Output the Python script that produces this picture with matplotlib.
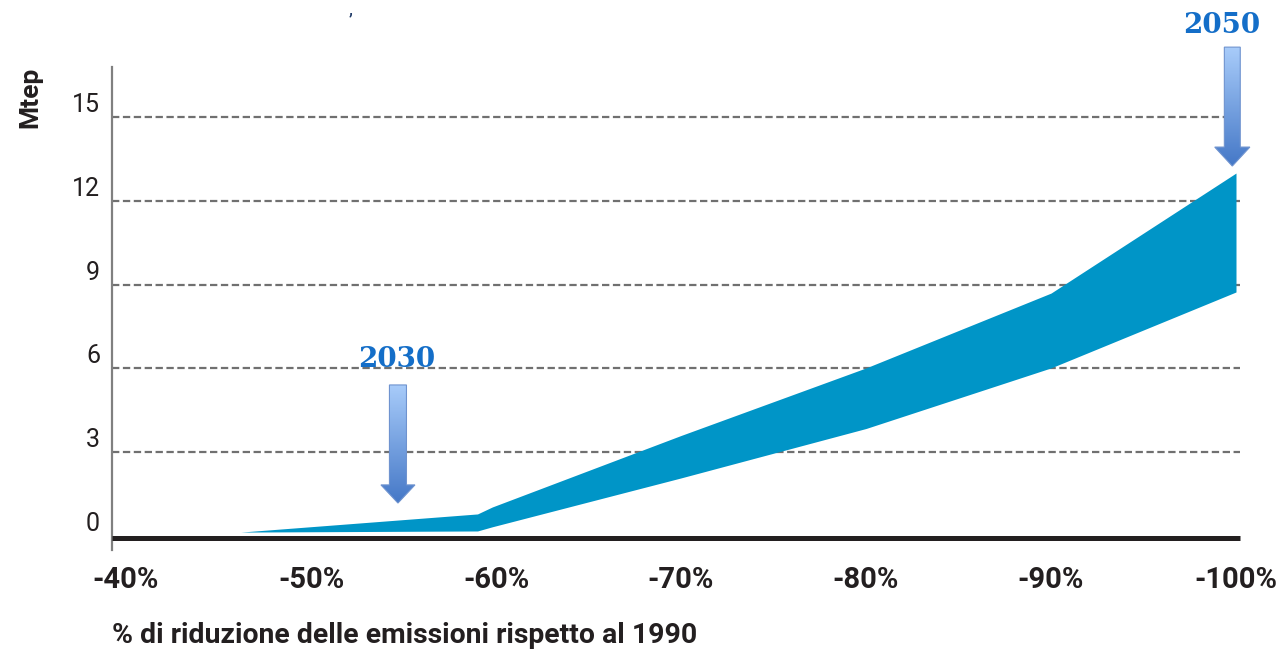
import numpy as np
import matplotlib.pyplot as plt
from matplotlib.patches import Polygon

plt.rcParams['font.family'] = ['Roboto', 'DejaVu Sans']

# forchetta del fabbisogno (Mtep) per livello di riduzione delle emissioni
riduzione = [46.2, 59.0, 59.8, 70, 80, 90, 100]
mtep_min = [0.14, 0.18, 0.33, 2.08, 3.85, 6.02, 8.74]
mtep_max = [0.14, 0.79, 1.04, 3.60, 6.02, 8.70, 13.0]

x_ticks = [40, 50, 60, 70, 80, 90, 100]
x_labels = ['-40%', '-50%', '-60%', '-70%', '-80%', '-90%', '-100%']
y_ticks = [0, 3, 6, 9, 12, 15]

anni = ['2030', '2050']
anni_x = [54.7, 99.8]

PX_X = 18.5    # pixel per punto percentuale
PX_Y = 27.92   # pixel per Mtep


def freccia(ax, cx, top, base, tip, sw, hw):
    # freccia verso il basso con sfumatura azzurro -> blu
    pts = [(cx - sw, top), (cx + sw, top), (cx + sw, base), (cx + hw, base),
           (cx, tip), (cx - hw, base), (cx - sw, base)]
    poly = Polygon(pts, closed=True, fc='none', ec='#6f93cf', lw=0.8, zorder=6)
    ax.add_patch(poly)
    grad = np.linspace(0, 1, 256)[:, None]
    c1 = np.array([0.66, 0.80, 0.98])
    c2 = np.array([0.27, 0.47, 0.78])
    img = c1 + (c2 - c1) * grad[:, :, None]
    im = ax.imshow(img, extent=[cx - hw, cx + hw, tip, top], origin='upper',
                   aspect='auto', zorder=5, interpolation='bilinear')
    im.set_clip_path(poly)


fig = plt.figure(figsize=(12.76, 6.5), dpi=100)
ax = fig.add_axes([112 / 1276, 1 - 552.75 / 650, (1276 - 112) / 1276, 552.75 / 650])
x0 = 40 - 14 / PX_X
x1 = 100.2

# griglia tratteggiata
for v in y_ticks[1:]:
    ax.hlines(v, x0, x1, colors='#707070', linestyles=(0, (3.3, 1.6)), lw=1.6, zorder=1)

ax.fill_between(riduzione, mtep_min, mtep_max, color='#0095C7', lw=0, zorder=2)
ax.hlines(-0.08, x0, x1, colors='#231f20', lw=3.6, zorder=3)

# frecce e anni
freccia(ax, anni_x[0], 5.41, 1.83, 1.18, 0.46, 0.92)
freccia(ax, anni_x[1], 17.51, 13.93, 13.25, 0.43, 0.95)
ax.text(54.65, 6.05, anni[0], ha='center', va='baseline', family='DejaVu Serif',
        fontweight='heavy', fontsize=20, color='#146EC8', zorder=7)
ax.text(99.24, 18.0, anni[1], ha='center', va='baseline', family='DejaVu Serif',
        fontweight='heavy', fontsize=20, color='#146EC8', zorder=7)

ax.set_xlim(x0, x0 + (1276 - 112) / PX_X)
ax.set_ylim(-0.6, 536 / PX_Y)

for s in ['top', 'right', 'bottom']:
    ax.spines[s].set_visible(False)
ax.spines['left'].set_color('#808080')
ax.spines['left'].set_linewidth(1.6)
ax.spines['left'].set_bounds(-0.5, 16.8)
ax.set_xticks([])
ax.set_yticks([])

for x, lab in zip(x_ticks, x_labels):
    ax.text(x, -1.07, lab, ha='center', va='top', fontsize=21, fontweight='bold',
            color='#231f20')
for v in y_ticks:
    ax.text(x0 - 12 / PX_X, v + 5 / PX_Y, str(v), ha='right', va='baseline',
            fontsize=18, color='#231f20')

ax.text(x0, -3.83, '% di riduzione delle emissioni rispetto al 1990', ha='left',
        va='baseline', fontsize=20.4, fontweight='bold', color='#231f20')
fig.text(30 / 1276, 1 - 97 / 650, 'Mtep', rotation=90, ha='center', va='center',
         fontsize=19, fontweight='bold', color='#231f20')
# frammento del titolo in alto
fig.text(349 / 1276, 1.0, ',', fontsize=14, color='#1f3a68', va='top')

fig.savefig('out.png', dpi=100)
